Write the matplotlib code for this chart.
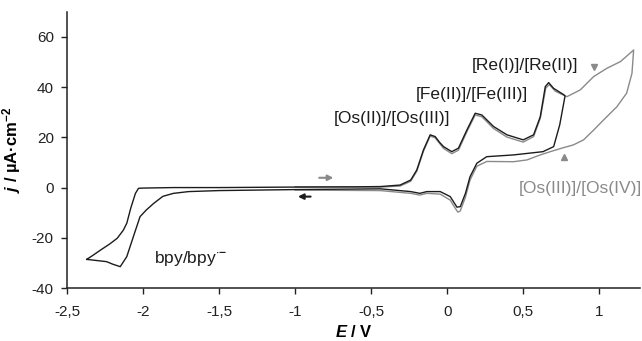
import matplotlib
matplotlib.use("Agg")
import matplotlib.pyplot as plt

plt.rcParams['font.family'] = ['Liberation Sans', 'DejaVu Sans']
plt.rcParams['mathtext.fontset'] = 'custom'
plt.rcParams['mathtext.rm'] = 'Liberation Sans'
plt.rcParams['mathtext.it'] = 'Liberation Sans:italic'
plt.rcParams['mathtext.bf'] = 'Liberation Sans:bold'
plt.rcParams['mathtext.bfit'] = 'Liberation Sans:italic:bold'

# ---- data ----
black_E = [-2.37, -2.33, -2.28, -2.22, -2.17, -2.13, -2.107, -2.08, -2.05, -2.03, -2.0, -1.8, -1.5,
           -1.0, -0.6, -0.44, -0.31, -0.24, -0.2, -0.156, -0.112, -0.079, -0.05, -0.024, 0.03, 0.074,
           0.13, 0.184, 0.228, 0.305, 0.393, 0.50, 0.568, 0.612, 0.645, 0.667, 0.70, 0.766,
           0.775, 0.74, 0.70, 0.63, 0.436, 0.26, 0.195, 0.15, 0.12, 0.086, 0.064, 0.02, -0.046,
           -0.134, -0.18, -0.24, -0.44, -1.0, -1.5, -1.7, -1.8, -1.87, -1.93, -1.98, -2.02, -2.064,
           -2.107, -2.15, -2.2, -2.24, -2.37]
black_j = [-28.6, -27.0, -24.9, -22.5, -20.2, -17.0, -14.2, -8.0, -2.3, -0.3, -0.2, 0.0, 0.0,
           0.2, 0.3, 0.4, 1.0, 3.0, 7.0, 15.0, 21.0, 20.3, 18.0, 16.3, 14.3, 15.7,
           23.0, 29.6, 28.9, 24.3, 21.0, 19.0, 21.0, 28.2, 40.2, 41.8, 39.5, 37.0,
           36.5, 25.0, 16.3, 14.3, 13.0, 12.3, 9.7, 4.3, -2.3, -7.6, -7.8, -3.6, -1.6,
           -1.6, -2.3, -1.6, -0.5, -0.8, -1.2, -1.6, -2.3, -3.5, -6.3, -9.0, -11.6, -19.6,
           -27.5, -31.5, -30.5, -29.5, -28.6]

gray_E = [-1.0, -0.44, -0.31, -0.24, -0.2, -0.156, -0.112, -0.079, -0.024, 0.03, 0.074, 0.13,
          0.184, 0.228, 0.305, 0.393, 0.50, 0.568, 0.612, 0.648, 0.672, 0.71, 0.787, 0.875,
          0.963, 1.05, 1.14, 1.226,
          1.215, 1.18, 1.116, 1.028, 0.963, 0.897, 0.83, 0.754, 0.678, 0.612, 0.524, 0.436,
          0.26, 0.195, 0.15, 0.12, 0.086, 0.07, 0.04, 0.02, -0.046, -0.134, -0.18, -0.24,
          -0.44, -1.0]
gray_j = [0.3, 0.2, 0.6, 2.5, 6.5, 14.5, 20.5, 19.8, 15.6, 13.5, 14.9, 22.3,
          28.9, 28.2, 23.5, 20.1, 18.1, 20.3, 27.6, 39.6, 41.0, 38.4, 36.2, 38.9,
          44.2, 47.5, 50.2, 54.8,
          45.5, 37.6, 32.2, 26.9, 22.9, 19.0, 17.0, 15.7, 14.3, 13.0, 11.0, 10.3,
          10.4, 8.5, 3.0, -3.8, -9.3, -9.8, -7.0, -5.0, -2.6, -2.3, -3.0, -2.3,
          -1.2, -1.0]

xticks = [-2.5, -2.0, -1.5, -1.0, -0.5, 0.0, 0.5, 1.0]
xticklabels = ['-2,5', '-2', '-1,5', '-1', '-0,5', '0', '0,5', '1']
yticks = [-40, -20, 0, 20, 40, 60]
yticklabels = ['-40', '-20', '0', '20', '40', '60']

labels = ['[Os(II)]/[Os(III)]', '[Fe(II)]/[Fe(III)]', '[Re(I)]/[Re(II)]']
label_pos = [(-0.36, 27.7), (0.16, 36.9), (0.51, 48.8)]
gray_label = '[Os(III)]/[Os(IV)]'
gray_label_pos = (0.875, -0.2)
bpy_pos = (-1.69, -28.1)

BLACK = '#1c1c1c'
GRAY = '#8a8a8a'

fig = plt.figure(figsize=(6.42, 3.41), dpi=100)
ax = fig.add_axes([0.1044, 0.1554, 0.893, 0.81])

ax.plot(gray_E, gray_j, color=GRAY, lw=1.0)
ax.plot(black_E, black_j, color=BLACK, lw=1.0)

ax.set_xlim(-2.5, 1.27)
ax.set_ylim(-40, 70)
ax.set_xticks(xticks)
ax.set_xticklabels(xticklabels)
ax.set_yticks(yticks)
ax.set_yticklabels(yticklabels)
ax.tick_params(direction='out', length=4.5, width=1, labelsize=11, colors='#222222')
ax.tick_params(axis='x', pad=8)
ax.tick_params(axis='y', pad=5)
for s in ['top', 'right']:
    ax.spines[s].set_visible(False)
for s in ['left', 'bottom']:
    ax.spines[s].set_linewidth(1.1)
    ax.spines[s].set_color('#222222')

ax.set_xlabel(r"$\mathbfit{E}$ / V", fontsize=12, fontweight='bold', labelpad=3)
ax.set_ylabel(r"$\mathbfit{j}$ / µA·cm$^{\mathbf{-2}}$", fontsize=12, fontweight='bold', labelpad=6)

for t, (x, y) in zip(labels, label_pos):
    ax.text(x, y, t, ha='center', va='center', fontsize=12.5, color=BLACK)
ax.text(gray_label_pos[0], gray_label_pos[1], gray_label, ha='center', va='center',
        fontsize=12.5, color=GRAY)
ax.text(bpy_pos[0], bpy_pos[1], r"bpy/bpy$^{\bullet\mathbf{-}}$", ha='center', va='center',
        fontsize=12.5, color=BLACK)

# direction arrows
ax.annotate('', xy=(-0.73, 3.9), xytext=(-0.86, 3.9),
            arrowprops=dict(arrowstyle='-|>', color=GRAY, lw=1.5, mutation_scale=8))
ax.annotate('', xy=(-1.0, -3.6), xytext=(-0.88, -3.6),
            arrowprops=dict(arrowstyle='-|>', color=BLACK, lw=1.5, mutation_scale=8))
# small markers for Os(III)/Os(IV)
ax.plot([0.967], [48.0], marker='v', color=GRAY, ms=4, ls='none')
ax.plot([0.77], [12.0], marker='^', color=GRAY, ms=4, ls='none')

fig.savefig('out.png', dpi=100)
